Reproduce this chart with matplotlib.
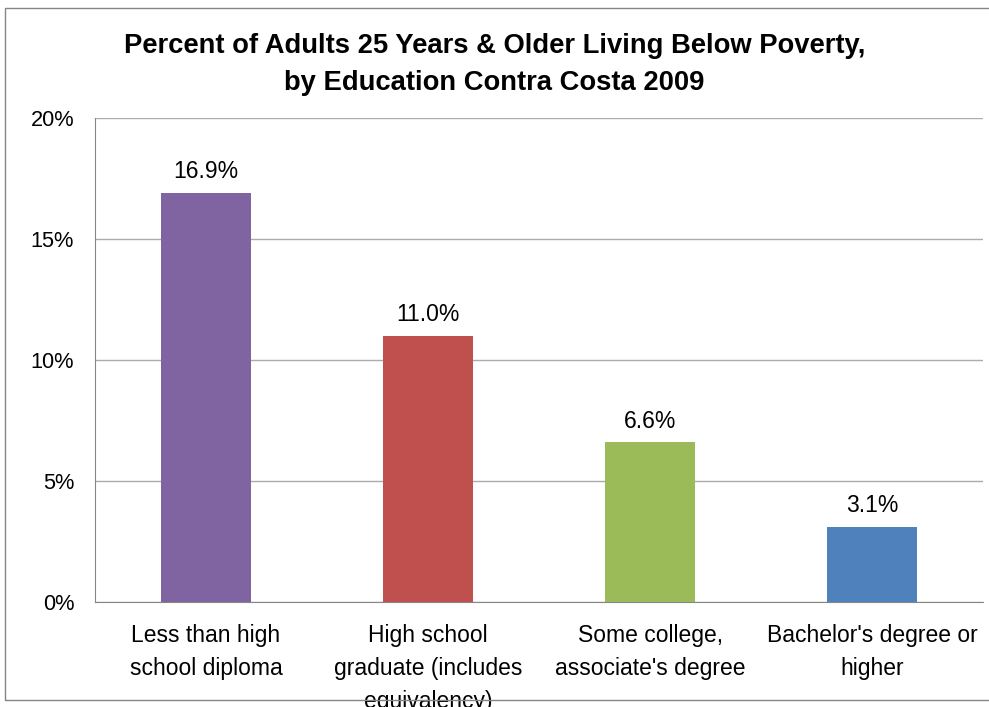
import matplotlib
matplotlib.use("Agg")
import matplotlib.pyplot as plt
from matplotlib.patches import Rectangle
from matplotlib.ticker import FuncFormatter

plt.rcParams['font.family'] = ['Liberation Sans', 'DejaVu Sans']

categories = [
    "Less than high\nschool diploma",
    "High school\ngraduate (includes\nequivalency)",
    "Some college,\nassociate's degree",
    "Bachelor's degree or\nhigher",
]
values = [16.9, 11.0, 6.6, 3.1]
colors = ["#8064A2", "#C0504D", "#9BBB59", "#4F81BD"]
yticks = [0, 5, 10, 15, 20]
title = "Percent of Adults 25 Years & Older Living Below Poverty,\nby Education Contra Costa 2009"

fig = plt.figure(figsize=(9.89, 7.07), dpi=100)
ax = fig.add_axes([0.0961, 0.1485, 0.898, 0.6846])

x = list(range(len(categories)))
ax.bar(x, values, width=0.405, color=colors, zorder=3)

for xi, v in zip(x, values):
    ax.annotate(f"{v:.1f}%", (xi, v), xytext=(0, 7), textcoords="offset points",
                ha="center", va="bottom", fontsize=16.5, color="black")

ax.set_xlim(-0.5, len(categories) - 0.5)
ax.set_ylim(0, 20)
ax.set_yticks(yticks)
ax.yaxis.set_major_formatter(FuncFormatter(lambda v, p: f"{v:.0f}%"))
ax.yaxis.grid(True, color="#ABABAB", linewidth=1.0, zorder=0)
ax.set_axisbelow(True)

ax.set_xticks(x)
ax.set_xticklabels(categories, fontsize=16.5, linespacing=1.55)
ax.tick_params(axis="x", length=0, pad=16)
ax.tick_params(axis="y", length=0, pad=15, labelsize=15.7)

for s in ["top", "right"]:
    ax.spines[s].set_visible(False)
ax.spines["left"].set_color("#868686")
ax.spines["bottom"].set_color("#868686")

fig.text(0.5, 0.909, title, ha="center", va="center", fontsize=19.7,
         fontweight="bold", linespacing=1.55)

fig.patches.append(Rectangle((5 / 989, 1 - 700 / 707), 1.0, 692 / 707,
                             transform=fig.transFigure, fill=False,
                             edgecolor="#868686", linewidth=1.0, zorder=0))

fig.savefig("out.png", dpi=100)
